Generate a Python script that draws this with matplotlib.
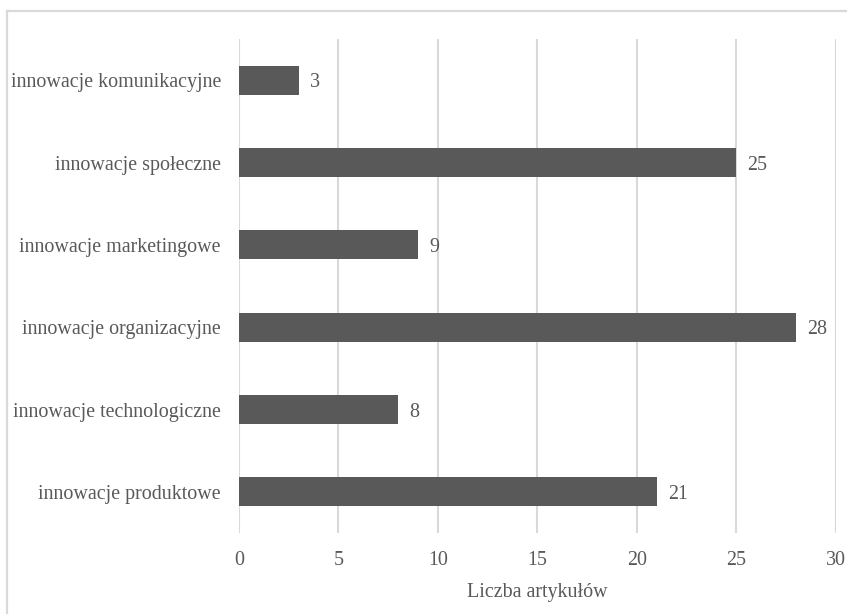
import matplotlib
matplotlib.use("Agg")
import matplotlib.pyplot as plt
from matplotlib.lines import Line2D

categories = ["innowacje produktowe", "innowacje technologiczne", "innowacje organizacyjne",
              "innowacje marketingowe", "innowacje społeczne", "innowacje komunikacyjne"]
values = [21, 8, 28, 9, 25, 3]
xticks = [0, 5, 10, 15, 20, 25, 30]
xlabel = "Liczba artykułów"

plt.rcParams['font.family'] = ['Liberation Serif', 'DejaVu Serif']
txt = '#595959'
fs = 14.4

fig = plt.figure(figsize=(8.47, 6.14), dpi=100)
ax = fig.add_axes([239/847, 1-533/614, (835.5-239)/847, (533-39)/614])

y = list(range(len(categories)))
ax.barh(y, values, height=0.35, color='#595959', zorder=3)
for yi, v in zip(y, values):
    ax.annotate(str(v), (v, yi), xytext=(8, 0), textcoords='offset points',
                va='center_baseline', ha='left', fontsize=fs, color=txt)

ax.set_xlim(0, 30)
ax.set_ylim(-0.5, len(categories) - 0.5)
ax.set_xticks(xticks)
ax.set_xticklabels([str(t) for t in xticks], fontsize=fs, color=txt)
ax.set_yticks(y)
ax.set_yticklabels(categories, fontsize=fs, color=txt)
ax.tick_params(axis='both', length=0)
ax.tick_params(axis='x', pad=13)
ax.tick_params(axis='y', pad=13)
ax.grid(axis='x', color='#d9d9d9', linewidth=1.5, zorder=0)
for s in ax.spines.values():
    s.set_visible(False)
ax.set_xlabel(xlabel, fontsize=fs, color=txt, labelpad=9.5)

border = '#d9d9d9'
fig.add_artist(Line2D([7/847, 1.0], [1-11/614, 1-11/614], transform=fig.transFigure,
                      color=border, linewidth=1.6))
fig.add_artist(Line2D([7/847, 7/847], [1-11/614, 0.0], transform=fig.transFigure,
                      color=border, linewidth=1.6))

fig.savefig('out.png', dpi=100)
